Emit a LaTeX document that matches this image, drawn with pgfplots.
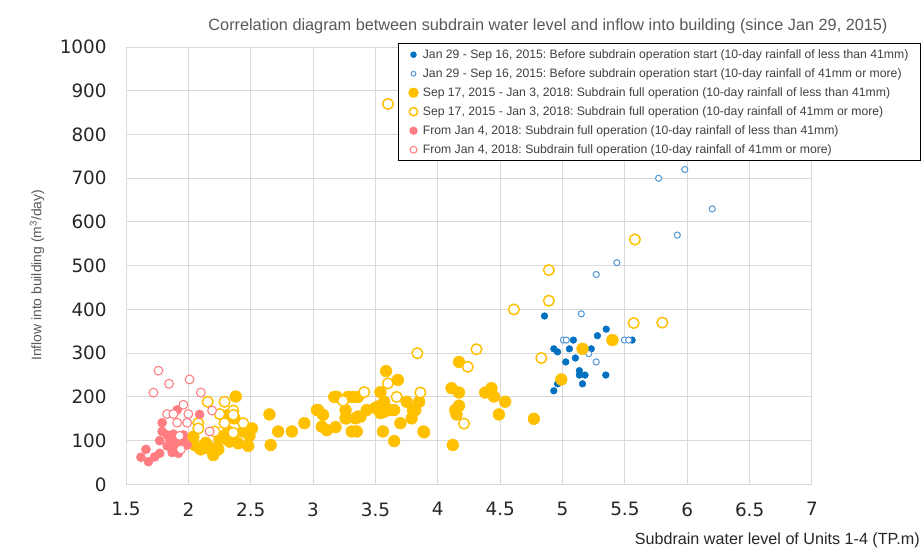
\documentclass[border=0pt]{standalone}
\usepackage{fontspec}
\setmainfont{Liberation Sans}
\newfontfamily\tickfont{DejaVu Sans}
\usepackage{pgfplots}
\pgfplotsset{compat=1.18}
\definecolor{cblue}{HTML}{0070C0}
\definecolor{cblueL}{HTML}{5B9BD5}
\definecolor{cyel}{HTML}{FFC000}
\definecolor{cpink}{HTML}{FF7C80}
\definecolor{gridc}{HTML}{D9D9D9}
\definecolor{txt}{HTML}{595959}
\frenchspacing
\begin{document}
\begin{tikzpicture}
\path[use as bounding box] (0,0) rectangle (691.5pt,415.5pt);
\begin{axis}[
  at={(94.5pt,52.2pt)}, anchor=south west,
  scale only axis, width=514.5pt, height=328pt,
  xmin=1.5, xmax=7, ymin=0, ymax=1000,
  xtick={1.5,2,...,7}, ytick={0,100,...,1000},
  /pgf/number format/1000 sep={},
  /pgf/number format/assume math mode=true,
  tick label style={font=\tickfont\fontsize{13.8}{14}\selectfont, text=black!85},
  yticklabel style={xshift=-11pt},
  xticklabel style={yshift=-10pt},
  major tick length=0pt,
  grid=major, major grid style={gridc, line width=0.75pt},
  axis line style={gridc, line width=0.75pt},
  clip=false,
  legend cell align=left,
  legend image code/.code={\draw[mark repeat=2,mark phase=2,#1,every mark/.append style={scale=0.78}] plot coordinates {(0pt,0pt)(4pt,0pt)(8pt,0pt)};},
  legend style={at={(axis description cs:0.3965,1.009)}, anchor=north west,
    draw=black, line width=0.9pt, inner xsep=7.75pt, inner ysep=2.75pt,
    font=\fontsize{9.15}{10}\selectfont, text=black!75,
    nodes={inner sep=1pt, text height=7pt, text depth=2pt},
    row sep=3.25pt,
    /tikz/every odd column/.append style={column sep=2.6pt}},
]
% Blue filled
\addplot[only marks, mark=*, mark size=2.5pt, draw=cblue, fill=cblue] coordinates {
(4.855,385)(4.93,310)(4.96,303)(5.055,310)(5.087,330)(5.23,310)(5.28,340)(5.35,355)
(5.558,330)(5.026,280)(5.103,289)(5.135,260)(5.135,250)(5.18,250)(5.347,250)(5.16,230)
(4.96,230)(4.93,214)
};
\addlegendentry{Jan 29 - Sep 16, 2015: Before subdrain operation start (10-day rainfall of less than 41mm)}
% Blue open
\addplot[only marks, mark=*, mark size=2.3pt, mark options={draw=cblueL, fill=white, line width=0.8pt}] coordinates {
(5.98,720)(5.77,700)(6.20,630)(5.92,570)(5.435,507)(5.27,480)(5.15,390)(5.007,330)(5.03,330)
(5.496,330)(5.53,330)(5.21,299)(5.27,280)
};
\addlegendentry{Jan 29 - Sep 16, 2015: Before subdrain operation start (10-day rainfall of 41mm or more)}
% Yellow filled
\addplot[only marks, mark=*, mark size=4.4pt, draw=cyel, fill=cyel] coordinates {
(5.40,330)(5.16,310)(4.99,240)
(4.17,280)(4.11,220)(4.17,210)(4.38,210)(4.43,220)(4.45,201)(4.54,189)(4.17,180)(4.14,170)
(4.15,160)(4.49,160)(4.77,150)(4.12,90)(3.89,119)
(3.585,259)(3.68,239)(3.54,211)(3.19,200)(3.28,200)(3.32,200)(3.17,200)(3.36,200)(3.75,189)
(3.85,189)(3.04,170)(3.08,159)(3.26,170)(3.43,170)(3.50,175)(3.57,166)(3.65,170)(3.80,170)
(3.27,151)(3.36,155)(3.79,151)(3.54,163)(3.70,140)(3.07,132)(3.11,124)(3.18,131)(3.31,121)
(3.35,121)(3.56,121)(3.885,121)(3.65,99)(3.57,189)(3.52,178)(3.82,170)(3.38,155)(3.34,151)
(3.26,151)(3.61,170)
(2.65,160)(2.72,121)(2.83,121)(2.93,140)(2.66,90)(3.03,170)
(2.38,201)(2.32,159)(2.37,151)(2.51,128)(2.44,121)(2.49,111)(2.32,121)(2.25,102)(2.33,98)
(2.40,94)(2.05,90)(2.10,80)(2.17,85)(2.24,80)(2.20,67)(2.48,88)(2.04,109)(2.09,83)(2.13,83)
(2.28,110)(2.14,95)(2.36,105)
};
\addlegendentry{Sep 17, 2015 - Jan 3, 2018: Subdrain full operation (10-day rainfall of less than 41mm)}
% Yellow open
\addplot[only marks, mark=*, mark size=4pt, mark options={draw=cyel, fill=white, line width=1.1pt}] coordinates {
(3.60,870)(5.58,560)(4.89,490)(4.89,420)(5.57,369)(5.80,370)(4.83,289)(4.61,400)(4.31,309)
(4.24,269)(4.21,139)(3.86,210)(3.836,300)(3.60,231)(3.41,211)(3.67,200)(3.24,191)
(2.155,189)(2.29,189)(2.36,169)(2.36,159)(2.25,161)(2.08,140)(2.08,128)(2.29,140)(2.44,140)
(2.36,118)(2.21,121)
};
\addlegendentry{Sep 17, 2015 - Jan 3, 2018: Subdrain full operation (10-day rainfall of 41mm or more)}
% Pink filled
\addplot[only marks, mark=*, mark size=3.4pt, draw=cpink, fill=cpink] coordinates {
(2.09,160)(1.91,170)(1.79,141)(1.79,121)(1.77,100)(1.85,103)(1.91,98)(1.96,100)(1.83,88)
(1.88,85)(1.93,83)(1.99,90)(1.87,73)(1.92,71)(1.66,80)(1.62,62)(1.68,52)(1.73,63)(1.77,71)
(1.83,113)(1.88,115)(1.96,113)(1.86,95)(1.95,92)(1.90,105)
};
\addlegendentry{From Jan 4, 2018: Subdrain full operation (10-day rainfall of less than 41mm)}
% Pink open
\addplot[only marks, mark=*, mark size=3.3pt, mark options={draw=cpink, fill=white, line width=0.8pt}] coordinates {
(1.76,260)(1.845,230)(2.01,240)(1.72,210)(2.10,210)(1.96,182)(1.83,161)(1.88,161)(2.0,161)
(1.91,141)(1.99,141)(2.19,169)(2.17,121)(1.93,111)(1.94,80)
};
\addlegendentry{From Jan 4, 2018: Subdrain full operation (10-day rainfall of 41mm or more)}
\end{axis}
\node[text=txt, font=\fontsize{12.2}{13}\selectfont] at (411pt,396pt) {Correlation diagram between subdrain water level and inflow into building (since Jan 29, 2015)};
\node[text=txt, rotate=90, font=\fontsize{10.4}{12}\selectfont] at (27.75pt,209pt) {Inflow into building (m\textsuperscript{3}/day)};
\node[text=black!85, anchor=east, inner sep=0pt, font=\fontsize{12.1}{13}\selectfont] at (690pt,10.5pt) {Subdrain water level of Units 1-4 (TP.m)};
\end{tikzpicture}
\end{document}
